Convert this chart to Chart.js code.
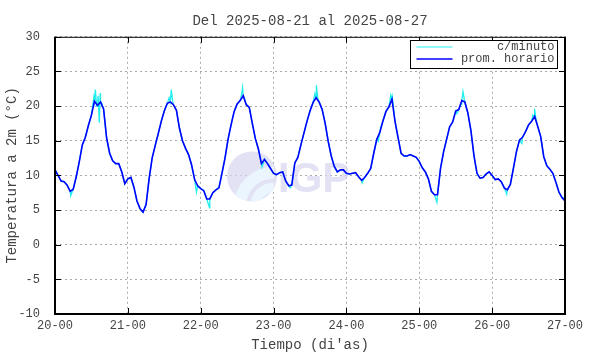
<!DOCTYPE html>
<html>
<head>
<meta charset="utf-8">
<script src="https://cdn.jsdelivr.net/npm/chart.js@4.4.1/dist/chart.umd.min.js"></script>
<style>
  html, body { margin: 0; padding: 0; background: #fff; }
</style>
</head>
<body>
<canvas id="tempChart" width="590" height="354"></canvas>
<script>
const titleText = 'Del 2025-08-21 al 2025-08-27';
const xTickLabels = ['20-00', '21-00', '22-00', '23-00', '24-00', '25-00', '26-00', '27-00'];
const seriesLabels = ['c/minuto', 'prom. horario'];

// promedio horario, una lectura por hora desde 20-00 hasta 27-00
const hourlyTemps = [
  10.8, 10.0, 9.2, 9.1, 8.6, 7.7, 8.0, 9.8, 12.0, 14.4, 15.5, 17.2, 18.7, 20.7, 20.1, 20.6, 19.6, 15.4, 13.2, 12.1, 11.7, 11.7, 10.5, 8.8,
  9.5, 9.7, 8.3, 6.3, 5.2, 4.7, 5.8, 9.5, 12.5, 14.3, 16.0, 17.8, 19.3, 20.4, 20.6, 20.2, 19.4, 16.8, 15.0, 13.9, 13.0, 11.5, 9.4, 8.5,
  8.1, 7.8, 6.6, 6.6, 7.5, 7.9, 8.2, 10.3, 12.5, 15.2, 17.3, 19.2, 20.3, 20.8, 21.5, 20.2, 19.8, 17.5, 15.3, 13.8, 11.7, 12.3, 11.7, 11.0,
  10.3, 10.1, 10.4, 10.5, 9.2, 8.5, 8.6, 11.8, 12.6, 14.4, 16.1, 17.8, 19.3, 20.5, 21.2, 20.6, 19.5, 17.5, 14.9, 12.8, 11.3, 10.5, 10.8, 10.8,
  10.3, 10.2, 10.3, 10.4, 9.8, 9.3, 9.7, 10.3, 11.0, 13.2, 15.2, 16.2, 17.8, 19.2, 19.9, 21.0, 17.8, 15.5, 13.2, 12.8, 12.8, 13.0, 12.8, 12.6,
  12.0, 11.1, 10.5, 9.5, 7.7, 7.2, 7.2, 11.0, 13.4, 15.2, 17.0, 17.7, 19.3, 19.5, 20.8, 20.6, 19.0, 16.5, 12.9, 10.3, 9.6, 9.7, 10.2, 10.5,
  10.0, 9.4, 9.5, 9.1, 8.2, 7.9, 8.7, 11.0, 13.4, 15.1, 15.5, 16.3, 17.3, 17.8, 18.5, 17.1, 15.6, 12.7, 11.4, 10.9, 10.3, 9.0, 7.6, 6.8,
  6.3
];

// lecturas por minuto que se salen del promedio (picos)
const minuteHours = [5.2, 12.8, 13.3, 13.7, 14.2, 14.6, 14.9, 15.4, 37.6, 38.3, 38.8, 46.6, 50.9, 61.5, 61.8, 62.3, 68.2, 77.5,
  85.6, 86.1, 86.6, 101.2, 106.5, 107.2, 110.6, 111.1, 125.8, 132.4, 133.8, 134.4, 134.9, 148.8, 153.8, 157.4, 158.0, 158.4, 167.5];
const minuteTemps = [7.1, 21.3, 22.4, 20.0, 21.5, 17.6, 21.9, 20.4, 21.2, 22.4, 20.6, 7.6, 5.3, 21.8, 22.7, 21.2, 11.2, 8.2,
  21.8, 23.0, 21.0, 8.9, 14.9, 16.8, 21.6, 21.3, 6.1, 18.9, 20.3, 22.1, 20.8, 7.3, 14.6, 18.7, 19.6, 18.2, 6.8];

const mono = 'Liberation Mono, DejaVu Sans Mono, monospace';
const textColor = '#444';

const hourlyPoints = hourlyTemps.map((t, h) => ({ x: h, y: t }));
const minutePoints = hourlyPoints
  .concat(minuteHours.map((h, i) => ({ x: h, y: minuteTemps[i] })))
  .sort((a, b) => a.x - b.x);

// logo IGP de fondo
const watermark = {
  id: 'watermark',
  beforeDatasetsDraw(chart) {
    const { ctx, chartArea: a } = chart;
    const cx = (a.left + a.right) / 2 - 58;
    const cy = (a.top + a.bottom) / 2 + 1;
    ctx.save();
    ctx.beginPath();
    ctx.arc(cx, cy, 25, 0, Math.PI * 2);
    ctx.fillStyle = 'rgba(214,214,240,0.7)';
    ctx.fill();
    ctx.clip();
    ctx.fillStyle = 'rgba(234,246,253,0.95)';
    ctx.beginPath();
    ctx.arc(cx + 22, cy + 30, 40, Math.PI, Math.PI * 1.5);
    ctx.arc(cx + 22, cy + 30, 28, Math.PI * 1.5, Math.PI, true);
    ctx.fill();
    ctx.beginPath();
    ctx.arc(cx + 22, cy + 30, 24, Math.PI, Math.PI * 1.5);
    ctx.arc(cx + 22, cy + 30, 14, Math.PI * 1.5, Math.PI, true);
    ctx.fill();
    ctx.restore();
    ctx.save();
    ctx.fillStyle = 'rgba(214,214,240,0.7)';
    ctx.font = 'bold 42px Liberation Sans, Arial, sans-serif';
    ctx.textBaseline = 'alphabetic';
    ctx.fillText('IGP', cx + 26, cy + 16);
    ctx.restore();
  }
};

// marco estilo gnuplot con marcas hacia adentro y leyenda en recuadro
const frame = {
  id: 'frame',
  afterDatasetsDraw(chart) {
    const { ctx, chartArea: a, scales: { x, y } } = chart;
    ctx.save();
    ctx.strokeStyle = '#000';
    ctx.lineWidth = 1;
    const seg = (x1, y1, x2, y2) => { ctx.beginPath(); ctx.moveTo(x1, y1); ctx.lineTo(x2, y2); ctx.stroke(); };
    x.ticks.forEach(t => {
      const px = Math.round(x.getPixelForValue(t.value)) + 0.5;
      seg(px, a.bottom, px, a.bottom - 6);
      seg(px, a.top, px, a.top + 6);
    });
    y.ticks.forEach(t => {
      const py = Math.round(y.getPixelForValue(t.value)) + 0.5;
      seg(a.left, py, a.left + 6, py);
      seg(a.right, py, a.right - 6, py);
    });
    seg(a.left, a.top + 0.5, a.right, a.top + 0.5);
    ctx.lineWidth = 2;
    seg(a.left, a.top, a.left, a.bottom + 1);
    seg(a.left - 1, a.bottom, a.right + 1, a.bottom);
    seg(a.right, a.top, a.right, a.bottom + 1);

    // leyenda
    const bx = 410.5, by = 40.5, bw = 147, bh = 28;
    ctx.fillStyle = '#fff';
    ctx.fillRect(bx, by, bw, bh);
    ctx.lineWidth = 1;
    ctx.strokeStyle = '#000';
    ctx.strokeRect(bx, by, bw, bh);
    ctx.font = '12px ' + mono;
    ctx.textAlign = 'right';
    ctx.textBaseline = 'middle';
    chart.data.datasets.forEach((ds, i) => {
      const ly = by + 6.5 + i * 12;
      ctx.strokeStyle = ds.borderColor;
      ctx.lineWidth = i === 0 ? 1 : 1.5;
      seg(bx + 6, ly, bx + 42, ly);
      ctx.fillStyle = textColor;
      ctx.fillText(ds.label, bx + bw - 3, ly);
    });
    ctx.restore();
  }
};

const ctx = document.getElementById('tempChart').getContext('2d');
const tempChart = new Chart(ctx, {
  type: 'line',
  data: {
    datasets: [
      {
        label: seriesLabels[0],
        data: minutePoints,
        borderColor: '#22eeee',
        borderWidth: 1.3,
        pointRadius: 0,
        order: 2
      },
      {
        label: seriesLabels[1],
        data: hourlyPoints,
        borderColor: '#0000ff',
        borderWidth: 1.6,
        pointRadius: 0,
        order: 1
      }
    ]
  },
  options: {
    responsive: false,
    animation: false,
    layout: { padding: { top: 0, right: 25, bottom: 0, left: 0 } },
    plugins: {
      legend: { display: false },
      tooltip: { enabled: false },
      title: {
        display: true,
        text: titleText,
        fullSize: false,
        color: textColor,
        font: { family: mono, size: 14, weight: 'normal' },
        padding: { top: 13, bottom: 7 }
      }
    },
    scales: {
      x: {
        type: 'linear',
        min: 0,
        max: 168,
        ticks: {
          stepSize: 24,
          autoSkip: false,
          maxRotation: 0,
          padding: 5,
          color: textColor,
          font: { family: mono, size: 12 },
          callback: v => xTickLabels[Math.round(v / 24)]
        },
        grid: { color: '#aaa', lineWidth: 1, drawTicks: false },
        border: { display: false, dash: [2, 3] },
        title: {
          display: true,
          text: "Tiempo (di'as)",
          color: textColor,
          font: { family: mono, size: 14 },
          padding: { top: 2, bottom: 0 }
        },
        afterFit: s => { s.height = 40; }
      },
      y: {
        min: -10,
        max: 30,
        ticks: {
          stepSize: 5,
          padding: 15,
          color: textColor,
          font: { family: mono, size: 12 },
          callback: v => String(v)
        },
        grid: { color: '#aaa', lineWidth: 1, drawTicks: false },
        border: { display: false, dash: [2, 3] },
        title: {
          display: true,
          text: 'Temperatura a 2m (°C)',
          color: textColor,
          font: { family: mono, size: 14 },
          padding: { top: 4, bottom: 0 }
        },
        afterFit: s => { s.width = 55; }
      }
    }
  },
  plugins: [watermark, frame]
});
</script>
</body>
</html>
